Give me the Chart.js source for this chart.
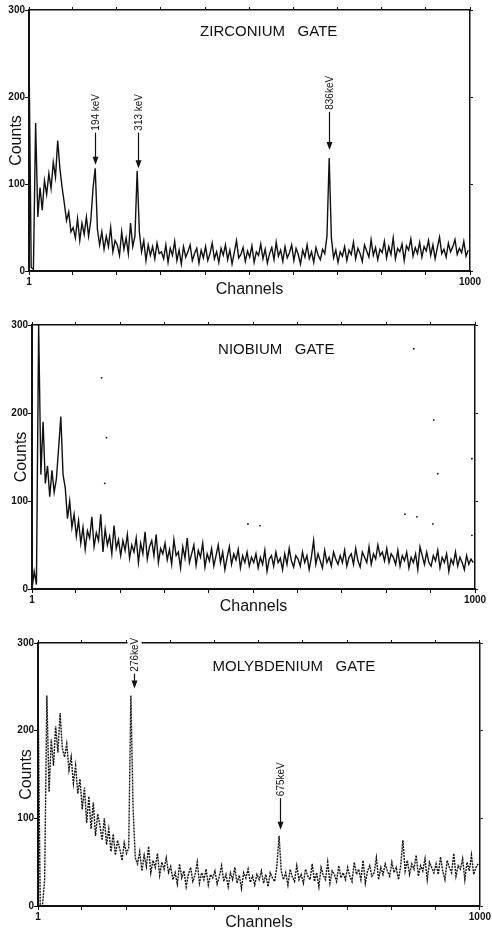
<!DOCTYPE html>
<html>
<head>
<meta charset="utf-8">
<script src="https://cdn.jsdelivr.net/npm/chart.js@4.4.0/dist/chart.umd.min.js"></script>
<style>
  body { margin: 0; background: #fff; width: 492px; height: 932px; position: relative; overflow: hidden; }
  canvas { position: absolute; left: 0; }
</style>
</head>
<body>
<canvas id="zr" width="492" height="305" style="top:0px"></canvas>
<canvas id="nb" width="492" height="312" style="top:305px"></canvas>
<canvas id="mo" width="492" height="315" style="top:617px"></canvas>
<script>
// channel of each 5-channel bin (1, 6, 11 ... 996)
const channels = [];
for (let ch = 1; ch <= 996; ch += 5) channels.push(ch);

const xTicks = [1, 100, 200, 300, 400, 500, 600, 700, 800, 900, 1000];
const yTicks = [0, 100, 200, 300];

// counts per bin, one row per 100 channels
const zrCounts = [
  250, 4, 2, 170, 62, 96, 70, 104, 88, 112, 95, 125, 108, 150, 118, 96, 78, 58, 68, 45,
  50, 38, 60, 35, 55, 42, 62, 40, 58, 95, 118, 48, 30, 45, 25, 40, 28, 50, 22, 35,
  30, 18, 45, 25, 38, 20, 55, 28, 40, 115, 45, 22, 35, 12, 30, 18, 28, 14, 32, 20,
  22, 14, 30, 10, 26, 18, 34, 12, 24, 8, 28, 16, 22, 30, 12, 20, 26, 9, 24, 15,
  28, 12, 20, 32, 14, 22, 10, 26, 18, 30, 13, 24, 8, 21, 35, 15, 19, 27, 11, 23,
  16, 29, 10, 22, 18, 31, 14, 25, 9, 20, 27, 13, 33, 17, 24, 11, 28, 15, 21, 30,
  12, 26, 19, 8, 24, 16, 30, 14, 22, 10, 27, 18, 13, 25, 20, 40, 130, 38, 15, 24,
  10, 22, 17, 28, 12, 24, 19, 33, 14, 26, 20, 11, 30, 23, 16, 36, 18, 27, 13, 25,
  21, 34, 15, 28, 19, 38, 14, 26, 22, 31, 12, 29, 24, 37, 17, 27, 20, 33, 16, 28,
  23, 35, 18, 30, 14, 27, 39, 20, 25, 16, 32, 22, 28, 36, 19, 26, 21, 34, 17, 24
];

const nbCounts = [
  0, 20, 5, 300, 130, 190, 120, 140, 105, 135, 110, 125, 160, 196, 130, 115, 80, 100, 70, 85,
  60, 78, 52, 70, 45, 66, 58, 82, 48, 64, 55, 85, 42, 68, 50, 60, 40, 72, 46, 56,
  38, 55, 44, 62, 35, 50, 42, 58, 30, 52, 40, 65, 34, 48, 55, 38, 62, 30, 46, 40,
  52, 33, 45, 28, 56, 38, 42, 24, 48, 35, 58, 30, 40, 50, 27, 44, 36, 52, 25, 40,
  32, 46, 26, 38, 50, 30, 42, 22, 36, 48, 28, 40, 33, 45, 24, 38, 30, 42, 26, 36,
  30, 40, 24, 36, 28, 44, 20, 34, 38, 26, 42, 30, 35, 22, 40, 28, 46, 32, 25, 38,
  34, 26, 42, 30, 38, 22, 36, 55, 28, 40, 32, 24, 44, 30, 36, 26, 42, 34, 28, 38,
  30, 44, 26, 36, 40, 28, 46, 32, 25, 42, 36, 30, 48, 28, 40, 34, 50, 38, 42, 32,
  46, 30, 40, 36, 28, 44, 26, 38, 32, 42, 24, 36, 30, 40, 22, 48, 38, 28, 42, 30,
  26, 38, 32, 44, 24, 36, 30, 40, 20, 34, 28, 42, 26, 36, 30, 22, 38, 28, 34, 30
];

const moCounts = [
  250, 2, 0, 30, 240, 130, 190, 160, 205, 175, 220, 180, 170, 185, 155, 170, 140, 160, 128, 145,
  110, 135, 95, 125, 88, 118, 80, 105, 92, 75, 100, 70, 88, 62, 82, 58, 75, 65, 52, 72,
  60, 66, 240, 110, 55, 48, 62, 40, 58, 45, 68, 38, 52, 44, 60, 35, 50, 42, 55, 38,
  45, 30, 38, 25, 48, 32, 40, 22, 36, 44, 28, 35, 50, 26, 38, 30, 42, 24, 36, 32,
  40, 25, 34, 46, 28, 36, 22, 38, 30, 44, 26, 35, 20, 38, 32, 42, 27, 34, 24, 36,
  30, 40, 26, 36, 22, 38, 32, 28, 45, 80, 40, 30, 38, 24, 42, 33, 28, 46, 30, 36,
  26, 42, 34, 30, 48, 28, 38, 22, 44, 35, 30, 50, 26, 40, 36, 28, 46, 32, 38, 30,
  44, 34, 28, 50, 36, 42, 30, 52, 26, 40, 46, 34, 38, 55, 30, 44, 36, 48, 40, 34,
  50, 38, 44, 30, 46, 75, 40, 52, 36, 48, 42, 58, 34, 46, 40, 54, 30, 50, 44, 38,
  48, 36, 56, 40, 30, 52, 44, 38, 60, 34, 46, 42, 54, 30, 50, 40, 58, 36, 44, 48
];

// stray single dots on the niobium spectrum
const nbDotChannels = [158, 169, 165, 488, 515, 842, 862, 869, 905, 907, 916, 993, 993];
const nbDotCounts   = [240, 172, 120, 74, 72, 85, 273, 82, 74, 192, 131, 148, 61];

// marked gamma lines
const zrPeakChannels = [150, 247, 680];
const zrPeakLabels = ['194 keV', '313 keV', '836keV'];
const moPeakChannels = [217, 548];
const moPeakLabels = ['276keV', '675keV'];

const FONT = '"Liberation Sans", Arial, sans-serif';
const INK = '#111';

function marksPlugin(cfg) {
  return {
    id: 'marks',
    afterDraw(chart) {
      const { ctx, chartArea: a, scales: { x, y } } = chart;
      ctx.save();
      ctx.fillStyle = INK;
      ctx.strokeStyle = INK;
      ctx.font = '15px ' + FONT;
      ctx.textBaseline = 'middle';
      ctx.textAlign = 'left';
      ctx.fillText(cfg.title, a.left + cfg.titleAt[0] * (a.right - a.left), a.top + cfg.titleAt[1]);

      (cfg.peaks || []).forEach((ch, i) => {
        const px = Math.round(x.getPixelForValue(ch)) + 0.5;
        const tip = y.getPixelForValue(cfg.tips[i]);
        const tail = y.getPixelForValue(cfg.tails[i]);
        ctx.font = '10px ' + FONT;
        const w = ctx.measureText(cfg.labels[i]).width;
        // clear the frame where the label runs over it
        ctx.fillStyle = '#fff';
        ctx.fillRect(px - 7, tail - w - 5, 14, w + 4);
        ctx.fillStyle = INK;
        ctx.lineWidth = 1.2;
        ctx.beginPath();
        ctx.moveTo(px, tail);
        ctx.lineTo(px, tip - 6);
        ctx.stroke();
        ctx.beginPath();
        ctx.moveTo(px - 3, tip - 8);
        ctx.lineTo(px + 3, tip - 8);
        ctx.lineTo(px, tip);
        ctx.closePath();
        ctx.fill();
        ctx.save();
        ctx.translate(px + 1, tail - 2);
        ctx.rotate(-Math.PI / 2);
        ctx.fillText(cfg.labels[i], 0, 0);
        ctx.restore();
      });
      ctx.restore();
    }
  };
}

function frameAxis(position, size) {
  const horizontal = position === 'top';
  return {
    type: 'linear',
    position,
    min: horizontal ? 1 : 0,
    max: horizontal ? 1000 : 300,
    afterBuildTicks: s => { s.ticks = (horizontal ? xTicks : yTicks).map(v => ({ value: v })); },
    afterFit: s => { if (horizontal) s.height = 0; else s.width = 0; },
    grid: { drawOnChartArea: false, tickLength: 3, color: INK, lineWidth: 1 },
    border: { color: INK, width: size },
    ticks: { display: false }
  };
}

function makePanel(id, top, area, counts, cfg, extra) {
  const canvas = document.getElementById(id);
  const H = canvas.height;
  const xH = cfg.xAxisH;
  new Chart(canvas, {
    type: 'line',
    data: {
      datasets: [{
        data: channels.map((c, i) => ({ x: c, y: counts[i] })),
        borderColor: INK,
        borderWidth: cfg.lineWidth,
        borderDash: cfg.dash,
        pointRadius: 0,
        tension: 0
      }].concat(extra)
    },
    options: {
      responsive: false,
      animation: false,
      devicePixelRatio: 1,
      layout: {
        padding: {
          left: 0,
          right: 492 - area.right,
          top: area.top - top,
          bottom: H - (area.bottom - top) - xH
        }
      },
      plugins: { legend: { display: false }, tooltip: { enabled: false } },
      scales: {
        x: {
          type: 'linear',
          position: 'bottom',
          min: 1,
          max: 1000,
          afterBuildTicks: s => { s.ticks = xTicks.map(v => ({ value: v })); },
          afterFit: s => { s.height = xH; },
          grid: { drawOnChartArea: false, tickLength: 4, color: INK, lineWidth: 1 },
          border: { color: INK, width: 2 },
          ticks: {
            autoSkip: false,
            maxRotation: 0,
            padding: 1,
            color: INK,
            font: { family: FONT, size: 10, weight: 'bold' },
            callback: v => (v === 1 || v === 1000) ? String(v) : ''
          },
          title: {
            display: true,
            text: 'Channels',
            color: INK,
            font: { family: FONT, size: 16 },
            padding: { top: 0, bottom: 0 }
          }
        },
        xTop: frameAxis('top', 1.5),
        y: {
          type: 'linear',
          position: 'left',
          min: 0,
          max: 300,
          afterBuildTicks: s => { s.ticks = yTicks.map(v => ({ value: v })); },
          afterFit: s => { s.width = area.left; },
          grid: { drawOnChartArea: false, tickLength: 4, color: INK, lineWidth: 1 },
          border: { color: INK, width: 2 },
          ticks: {
            padding: 0,
            color: INK,
            font: { family: FONT, size: 10, weight: 'bold' }
          },
          title: {
            display: true,
            text: 'Counts',
            color: INK,
            font: { family: FONT, size: 16 },
            padding: { top: cfg.countsPad, bottom: 0 }
          }
        },
        yRight: frameAxis('right', 1.5)
      }
    },
    plugins: [marksPlugin(cfg)]
  });
}

makePanel('zr', 0, { left: 29, right: 470, top: 10, bottom: 271 }, zrCounts, {
  xAxisH: 28, countsPad: 7, lineWidth: 1.4, dash: [],
  title: 'ZIRCONIUM   GATE', titleAt: [0.388, 22],
  peaks: zrPeakChannels, labels: zrPeakLabels,
  tips: [122, 118, 139], tails: [159, 159, 183]
}, []);

makePanel('nb', 305, { left: 32, right: 475, top: 325, bottom: 589 }, nbCounts, {
  xAxisH: 27, countsPad: 12, lineWidth: 1.4, dash: [],
  title: 'NIOBIUM   GATE', titleAt: [0.42, 25]
}, [{
  type: 'scatter',
  data: nbDotChannels.map((c, i) => ({ x: c, y: nbDotCounts[i] })),
  pointRadius: 0.9,
  pointBorderWidth: 0,
  backgroundColor: INK,
  showLine: false
}]);

makePanel('mo', 617, { left: 38, right: 481, top: 643, bottom: 906 }, moCounts, {
  xAxisH: 26, countsPad: 17, lineWidth: 1.4, dash: [2, 1],
  title: 'MOLYBDENIUM   GATE', titleAt: [0.395, 24],
  peaks: moPeakChannels, labels: moPeakLabels,
  tips: [248, 87], tails: [265, 123]
}, []);
</script>
</body>
</html>
